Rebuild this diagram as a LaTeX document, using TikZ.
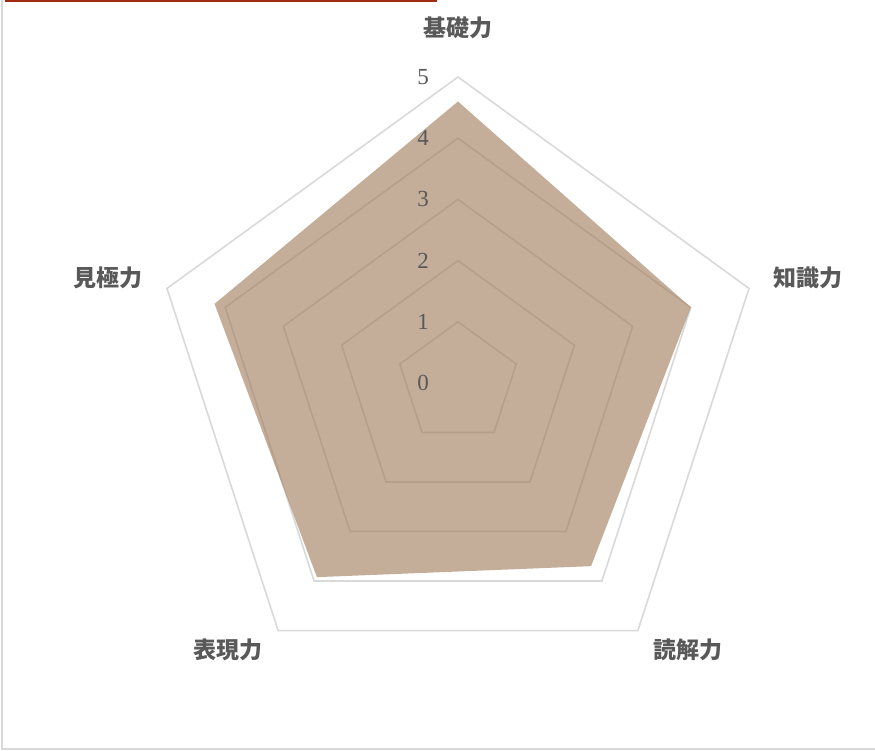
\documentclass[tikz,border=0pt]{standalone}
\usepackage{fontspec}
\usepackage{xcolor}
\newfontfamily\jpfont{Noto Sans CJK JP}
\newfontfamily\numfont{Liberation Serif}
\definecolor{labelgray}{HTML}{595959}
\definecolor{gridgray}{HTML}{D9D9D9}
\definecolor{areabrown}{RGB}{157,120,87}
\definecolor{topred}{RGB}{160,42,18}

\begin{document}
\begin{tikzpicture}[x=1pt,y=1pt]
\tikzset{
  axislabel/.style={text=labelgray,font=\jpfont\bfseries\fontsize{23}{23}\selectfont},
  ticklabel/.style={text=labelgray,font=\numfont\fontsize{23}{23}\selectfont},
  gridline/.style={draw=gridgray,line width=1.6pt,line join=miter}
}
\useasboundingbox (-458,-368) rectangle (417,383);
% frame
\draw[gridgray,line width=1.5pt] (-456,383) -- (-456,-366) -- (417,-366);
\draw[topred,line width=2pt] (-453,382) -- (-21,382);
% grid, levels 1 to 5
\draw[gridline] (90:61.2) -- (18:61.2) -- (-54:61.2) -- (-126:61.2) -- (162:61.2) -- cycle;
\draw[gridline] (90:122.4) -- (18:122.4) -- (-54:122.4) -- (-126:122.4) -- (162:122.4) -- cycle;
\draw[gridline] (90:183.6) -- (18:183.6) -- (-54:183.6) -- (-126:183.6) -- (162:183.6) -- cycle;
\draw[gridline] (90:244.8) -- (18:244.8) -- (-54:244.8) -- (-126:244.8) -- (162:244.8) -- cycle;
\draw[gridline] (90:306) -- (18:306) -- (-54:306) -- (-126:306) -- (162:306) -- cycle;
% data
\fill[areabrown,fill opacity=0.6] (90:281.5) -- (18:244.8) -- (-54:226.4) -- (-126:240) -- (162:256) -- cycle;
% scale
\draw (-35,0) node[ticklabel](t0) {0};
\draw (-35,61.2) node[ticklabel](t1) {1};
\draw (-35,122.4) node[ticklabel](t2) {2};
\draw (-35,183.6) node[ticklabel](t3) {3};
\draw (-35,244.8) node[ticklabel](t4) {4};
\draw (-35,306) node[ticklabel](t5) {5};
% axes
\draw (0,355) node[axislabel](kiso) {基礎力};
\draw (350,105) node[axislabel](chishiki) {知識力};
\draw (230,-267) node[axislabel](dokkai) {読解力};
\draw (-230,-267) node[axislabel](hyogen) {表現力};
\draw (-350,105) node[axislabel](mikiwame) {見極力};
\end{tikzpicture}
\end{document}
